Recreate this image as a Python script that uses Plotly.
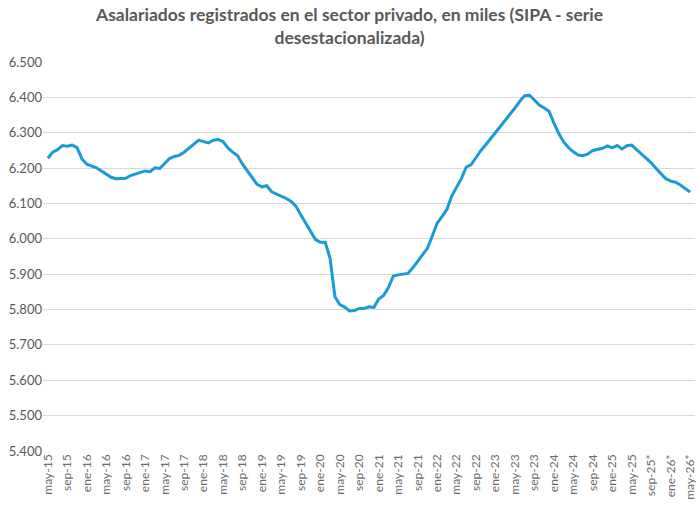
import plotly.graph_objects as go

# Meses en español para las etiquetas del eje x
meses = ["ene", "feb", "mar", "abr", "may", "jun", "jul", "ago", "sep", "oct", "nov", "dic"]

# Asalariados registrados en el sector privado (miles, serie desestacionalizada)
# mayo 2015 a mayo 2026
asalariados = [
    6228, 6245, 6252, 6264, 6262, 6265, 6258, 6226, 6211, 6207, 6201, 6192,
    6182, 6174, 6170, 6170, 6171, 6179, 6184, 6187, 6192, 6190, 6201, 6199,
    6213, 6227, 6233, 6236, 6245, 6256, 6268, 6279, 6275, 6271, 6279, 6281,
    6275, 6257, 6245, 6235, 6211, 6192, 6171, 6154, 6147, 6150, 6133, 6127,
    6121, 6114, 6106, 6092, 6067, 6044, 6022, 5998, 5990, 5990, 5945, 5836,
    5814, 5807, 5796, 5797, 5803, 5803, 5808, 5806, 5830, 5840, 5862, 5895,
    5898, 5900, 5902, 5918, 5936, 5953, 5973, 6008, 6044, 6063, 6083, 6121,
    6144, 6171, 6203, 6210, 6230, 6250, 6266, 6283, 6302, 6320, 6336, 6353,
    6370, 6389, 6405, 6406, 6391, 6378, 6370, 6361, 6327, 6298, 6274, 6258,
    6246, 6237, 6235, 6240, 6250, 6253, 6256, 6263, 6257, 6264, 6254, 6263,
    6265, 6252, 6240, 6228, 6215, 6199, 6183, 6170, 6163, 6160, 6152, 6142,
    6132,
]

# categorías: may-15 ... may-26 (con * desde jun-25)
fechas = []
for k in range(len(asalariados)):
    m = (4 + k) % 12
    a = 15 + (4 + k) // 12
    etiqueta = f"{meses[m]}-{a}"
    if (a, m) >= (25, 5):
        etiqueta += "*"
    fechas.append(etiqueta)

pos = list(range(len(fechas)))
ticks_pos = pos[::4]
ticks_txt = fechas[::4]

titulo = ("<b>Asalariados registrados en el sector privado, en miles (SIPA - serie"
          "<br>desestacionalizada)</b>")

fig = go.Figure()
fig.add_trace(go.Scatter(
    x=pos,
    y=asalariados,
    mode="lines",
    line=dict(color="#1b9ad6", width=3),
    hoverinfo="skip",
))

# título como anotación (dos líneas centradas)
fig.add_annotation(
    text=titulo,
    xref="paper", yref="paper",
    x=0.47, y=1.155,
    xanchor="center", yanchor="top",
    showarrow=False,
    align="center",
    font=dict(size=17.5, color="#595959"),
)

fig.update_layout(
    width=700,
    height=506,
    paper_bgcolor="white",
    plot_bgcolor="white",
    showlegend=False,
    separators=",.",
    margin=dict(l=43, r=3, t=62, b=55),
    font=dict(family="Lato", color="#595959"),
    xaxis=dict(
        range=[-1, 133],
        tickmode="array",
        tickvals=ticks_pos,
        ticktext=ticks_txt,
        tickangle=-90,
        tickfont=dict(size=12, color="#6b6b6b"),
        showgrid=False,
        zeroline=False,
        showline=False,
        ticks="",
    ),
    yaxis=dict(
        range=[5400, 6500],
        tick0=5400,
        dtick=100,
        tickformat=",.0f",
        tickfont=dict(size=13, color="#595959"),
        showgrid=True,
        gridcolor="#d9d9d9",
        gridwidth=1,
        zeroline=False,
        showline=False,
        ticks="",
    ),
)

fig.write_html(
    "out.html",
    config={"displayModeBar": False},
    post_script="document.body.style.margin='0';",
)
